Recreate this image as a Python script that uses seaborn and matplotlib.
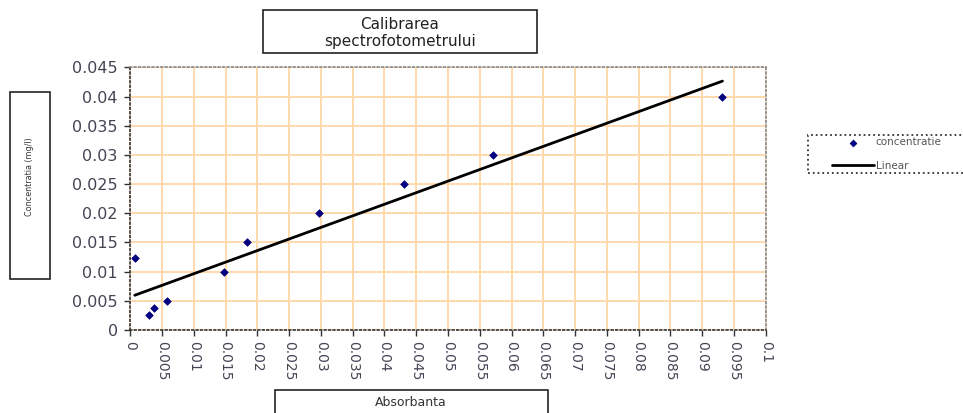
import numpy as np
import matplotlib
matplotlib.use("Agg")
import matplotlib.pyplot as plt
from matplotlib.patches import Rectangle
import seaborn as sns

# Absorbance readings and the matching concentrations (mg/l)
absorbanta = [0.0007, 0.0030, 0.0037, 0.0057, 0.0148, 0.0183, 0.0297, 0.0430, 0.0571, 0.0932]
concentratie = [0.0123, 0.0025, 0.0037, 0.0050, 0.0100, 0.0150, 0.0200, 0.0250, 0.0300, 0.0400]

x_ticks = [round(0.005 * i, 3) for i in range(21)]
y_ticks = [round(0.005 * i, 3) for i in range(10)]
x_tick_labels = [f"{v:g}" for v in x_ticks]
y_tick_labels = [f"{v:g}" for v in y_ticks]

title_text = "Calibrarea\nspectrofotometrului"
x_label_text = "Absorbanta"
y_label_text = "Concentratia (mg/l)"
series_label = "concentratie"
trend_label = "Linear"

sns.set_style("white")
plt.rcParams["font.family"] = ["DejaVu Sans"]

fig = plt.figure(figsize=(9.63, 4.13), dpi=100)
ax = fig.add_axes([0.1353, 0.201, 0.6598, 0.636])

grid_color = "#FFD9AD"
for v in x_ticks:
    ax.axvline(v, color=grid_color, lw=1.4, zorder=0)
for v in y_ticks:
    ax.axhline(v, color=grid_color, lw=1.4, zorder=0)

# Least-squares trend line across the measured range
sns.regplot(x=absorbanta, y=concentratie, ax=ax, scatter=False, ci=None,
            truncate=True, color="black", line_kws=dict(lw=2.0, zorder=3))
trend_line = ax.lines[-1]
trend_line.set_label(trend_label)
sns.scatterplot(x=absorbanta, y=concentratie, ax=ax, marker="D", s=15,
                color="#000080", edgecolor="#000080", linewidth=0.5,
                label=series_label, zorder=4)
points = ax.collections[-1]

ax.set_xlim(0, 0.1)
ax.set_ylim(0, 0.045)
ax.set_xticks(x_ticks)
ax.set_xticklabels(x_tick_labels, rotation=-90, fontsize=10, color="#444455")
ax.set_yticks(y_ticks)
ax.set_yticklabels(y_tick_labels, fontsize=11.5, color="#444455")
ax.tick_params(axis="both", direction="out", length=4, width=1, color="#333333",
               bottom=True, left=True)
ax.tick_params(axis="x", pad=4)
ax.tick_params(axis="y", pad=5)

for side in ["left", "bottom"]:
    ax.spines[side].set_color("#333333")
    ax.spines[side].set_linestyle(":")
    ax.spines[side].set_linewidth(1.2)
for side in ["top", "right"]:
    ax.spines[side].set_color("#888888")
    ax.spines[side].set_linestyle(":")
    ax.spines[side].set_linewidth(1.2)

# Legend to the right of the plot area, with its own dotted frame behind it
fig.patches.append(Rectangle((808 / 963, 1 - 173 / 413), 170 / 963, 38 / 413,
                             transform=fig.transFigure, fill=True, facecolor="white",
                             edgecolor="#333333", lw=1.3, ls=":", zorder=-1))
leg = ax.legend([points, trend_line], [series_label, trend_label],
                bbox_to_anchor=(832 / 963, 1 - 154 / 413),
                bbox_transform=fig.transFigure, loc="center left",
                fontsize=7.5, handlelength=4.0, handletextpad=0.2, labelspacing=1.25,
                borderpad=0, borderaxespad=0, frameon=False, markerscale=0.9)
for t in leg.get_texts():
    t.set_color("#555555")

# Title, axis-label boxes drawn in figure coordinates
def boxed(x0, y0, w, h, ls="-"):
    fig.patches.append(Rectangle((x0, y0), w, h, transform=fig.transFigure,
                                 fill=True, facecolor="white", edgecolor="#222222",
                                 lw=1.2, ls=ls, zorder=1))

boxed(263 / 963, 1 - 53 / 413, 274 / 963, 43 / 413)
fig.text(400 / 963, 1 - 33 / 413, title_text, ha="center", va="center",
         fontsize=11, color="#222222", linespacing=1.1)

boxed(10 / 963, 1 - 279 / 413, 40 / 963, 187 / 413)
fig.text(30 / 963, 1 - 177 / 413, y_label_text, rotation=90, ha="center", va="center",
         fontsize=5.8, color="#333333")

boxed(275 / 963, 1 - 420 / 413, 273 / 963, 30 / 413)
fig.text(411 / 963, 1 - 402 / 413, x_label_text, ha="center", va="center",
         fontsize=9, color="#333333")

fig.savefig("out.png", dpi=100)
